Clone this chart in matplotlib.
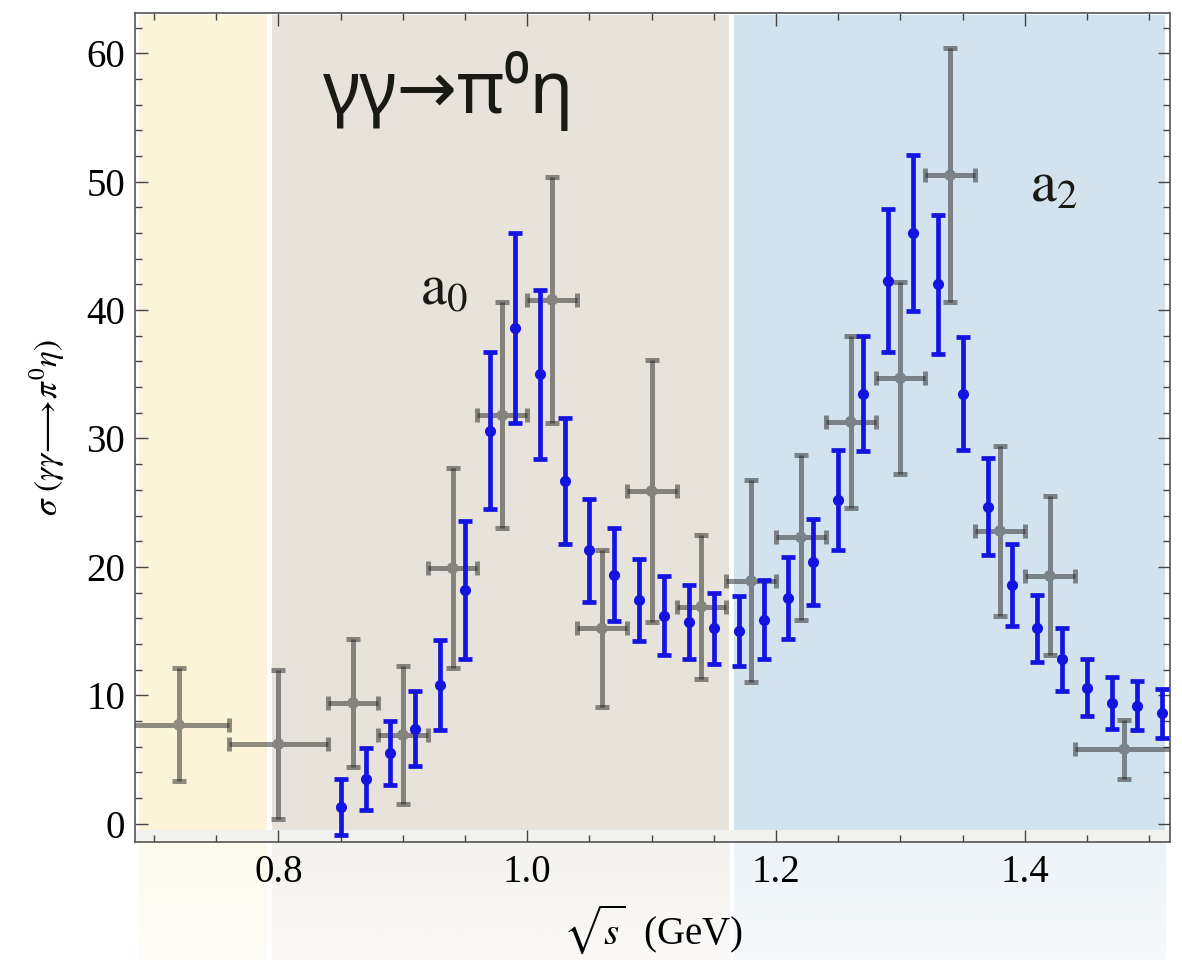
import matplotlib.pyplot as plt
import matplotlib.colors as mcolors
import numpy as np
from matplotlib.ticker import MultipleLocator

plt.rcParams['mathtext.fontset'] = 'stix'
plt.rcParams['font.family'] = ['Liberation Serif', 'DejaVu Serif']

# gray data points (with energy bins)
gray_x = [0.72, 0.80, 0.86, 0.90, 0.94, 0.98, 1.02, 1.06, 1.10, 1.14,
          1.18, 1.22, 1.26, 1.30, 1.34, 1.38, 1.42, 1.48]
gray_y = [7.7, 6.2, 9.4, 6.9, 19.9, 31.8, 40.8, 15.2, 25.9, 16.9,
          18.9, 22.3, 31.3, 34.7, 50.5, 22.8, 19.3, 5.8]
gray_err = [4.4, 5.8, 5.0, 5.4, 7.8, 8.8, 9.6, 6.1, 10.2, 5.6,
            7.9, 6.4, 6.7, 7.5, 9.9, 6.6, 6.2, 2.3]
gray_xerr = [0.04, 0.04, 0.02, 0.02, 0.02, 0.02, 0.02, 0.02, 0.02, 0.02,
             0.02, 0.02, 0.02, 0.02, 0.02, 0.02, 0.02, 0.04]

# blue data points
blue_x = [0.85, 0.87, 0.89, 0.91, 0.93, 0.95, 0.97, 0.99, 1.01, 1.03,
          1.05, 1.07, 1.09, 1.11, 1.13, 1.15, 1.17, 1.19, 1.21, 1.23,
          1.25, 1.27, 1.29, 1.31, 1.33, 1.35, 1.37, 1.39, 1.41, 1.43,
          1.45, 1.47, 1.49, 1.51]
blue_y = [1.3, 3.5, 5.5, 7.4, 10.8, 18.2, 30.6, 38.6, 35.0, 26.7,
          21.3, 19.4, 17.4, 16.2, 15.7, 15.2, 15.0, 15.9, 17.6, 20.4,
          25.2, 33.5, 42.3, 46.0, 42.0, 33.5, 24.7, 18.6, 15.2, 12.8,
          10.6, 9.4, 9.2, 8.6]
blue_err = [2.2, 2.4, 2.5, 2.9, 3.5, 5.4, 6.1, 7.4, 6.6, 4.9,
            4.0, 3.6, 3.2, 3.05, 2.9, 2.75, 2.75, 3.05, 3.2, 3.35,
            3.9, 4.5, 5.6, 6.1, 5.4, 4.4, 3.75, 3.2, 2.6, 2.45,
            2.2, 2.05, 1.9, 1.9]

# shaded regions
region_lo = [0.6879, 0.7945, 1.1660]
region_hi = [0.7905, 1.1625, 1.5126]
region_col = ['#fbf4d8', '#e8e3da', '#d3e3ee']

xmin, xmax = 0.6847, 1.5167
ymin, ymax = -1.43, 63.14

W, H = 1182, 960
fig = plt.figure(figsize=(W / 100, H / 100), dpi=100)
L, R, T, B = 135, 1170, 13, 842
ax_pos = [L / W, 1 - B / H, (R - L) / W, (B - T) / H]

# faded continuation of the regions below the frame
bg = fig.add_axes([L / W, 0, (R - L) / W, 1 - B / H], zorder=0)
bg.axis('off')
fade = np.linspace(0.2, 0.42, 100).reshape(-1, 1)
for lo, hi, c in zip(region_lo, region_hi, region_col):
    rgb = np.array(mcolors.to_rgb(c))
    img = np.ones((100, 1, 4))
    img[:, :, :3] = rgb
    img[:, :, 3] = fade
    bg.imshow(img, extent=(lo, hi, 0, 1), aspect='auto', origin='lower')
bg.set_xlim(xmin, xmax)
bg.set_ylim(0, 1)

ax = fig.add_axes(ax_pos, zorder=1)
ax.set_xlim(xmin, xmax)
ax.set_ylim(ymin, ymax)

y0 = (-0.49 - ymin) / (ymax - ymin)
y1 = (62.95 - ymin) / (ymax - ymin)
for lo, hi, c in zip(region_lo, region_hi, region_col):
    ax.axvspan(lo, hi, ymin=y0, ymax=y1, color=c, lw=0, zorder=0)
ax.axhspan(ymin, -0.49, color='#f1f1ef', lw=0, zorder=0)

gray_base = np.array(mcolors.to_rgb('#222222'))
gray_alpha = 0.5
ax.errorbar(gray_x, gray_y, yerr=gray_err, xerr=gray_xerr, fmt='none',
            color=gray_base, alpha=gray_alpha, elinewidth=3.6,
            capsize=4.8, capthick=3.6, zorder=2)
# opaque dots with the blended colour of the region they sit on
dot_cols = []
for gx in gray_x:
    c = region_col[np.searchsorted(region_hi, gx)]
    bgc = np.array(mcolors.to_rgb(c))
    dot_cols.append(gray_alpha * gray_base + (1 - gray_alpha) * bgc)
ax.scatter(gray_x, gray_y, s=70, c=dot_cols, lw=0, zorder=2.5)

ax.errorbar(blue_x, blue_y, yerr=blue_err, fmt='o', ms=7,
            color='#1414e0', elinewidth=3.4, capsize=5.2, capthick=3.4,
            zorder=3)

ax.text(0.836, 57.1, 'γγ→π⁰η', fontsize=52, va='center', ha='left',
        family=['Noto Sans', 'DejaVu Sans'], color='#1a1a14')
ax.text(0.9137, 41.5, r'$\mathrm{a}_0$', fontsize=42, va='center',
        ha='left', color='#1a1a14')
ax.text(1.404, 49.6, r'$\mathrm{a}_2$', fontsize=42, va='center',
        ha='left', color='#1a1a14')

ax.xaxis.set_major_locator(MultipleLocator(0.2))
ax.xaxis.set_minor_locator(MultipleLocator(0.05))
ax.yaxis.set_major_locator(MultipleLocator(10))
ax.yaxis.set_minor_locator(MultipleLocator(2))
ax.tick_params(which='both', direction='in', top=True, right=True,
               color='#444444', width=1.0)
ax.tick_params(which='major', length=9, labelsize=28, pad=7)
ax.tick_params(axis='x', which='major', pad=9)
ax.tick_params(which='minor', length=5)
ax.set_xticks([0.8, 1.0, 1.2, 1.4])
ax.set_xticklabels(['0.8', '1.0', '1.2', '1.4'])
for s in ax.spines.values():
    s.set_color('#555555')
    s.set_linewidth(1.2)

ax.set_xlabel(r'$\sqrt{s}$  (GeV)', fontsize=28, labelpad=8)
ax.set_ylabel(r'$\sigma\ (\gamma\gamma\!\longrightarrow\!\pi^0\eta)$',
              fontsize=24, labelpad=14)

fig.savefig('out.png', dpi=100)
